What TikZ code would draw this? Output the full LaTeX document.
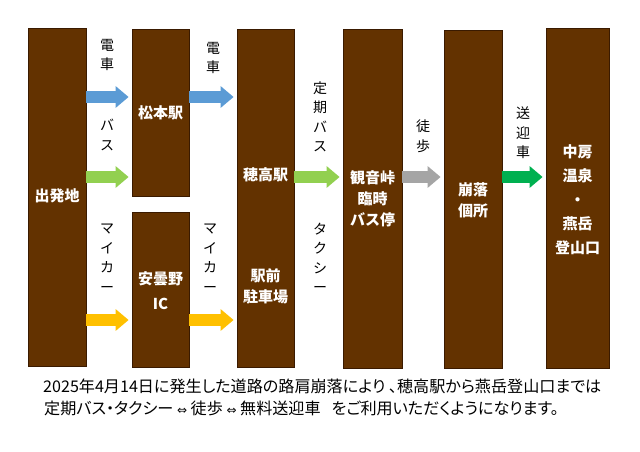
\documentclass[tikz,border=0pt]{standalone}
\usepackage{fontspec}
\setmainfont{Noto Sans CJK JP}
\newfontfamily\notefont{Noto Sans CJK JP}[RawFeature=+palt]
\newfontfamily\symfont{DejaVu Sans}
\usetikzlibrary{arrows.meta}
\definecolor{boxfill}{HTML}{633200}
\definecolor{boxline}{HTML}{3A1A00}
\definecolor{cblue}{HTML}{5B9BD5}
\definecolor{clgreen}{HTML}{92D050}
\definecolor{cyellow}{HTML}{FFC000}
\definecolor{cgray}{HTML}{A5A5A5}
\definecolor{cgreen}{HTML}{00B050}
\tikzset{
  stage/.style={draw=boxline, line width=0.8pt, fill=boxfill, inner sep=0pt},
  intext/.style={text=white, font=\fontsize{15}{21}\selectfont\bfseries, align=center, inner sep=0pt},
  vlabel/.style={font=\fontsize{14}{19.5}\selectfont, align=center, inner sep=0pt, text width=15pt},
  blockarrow/.style={line width=12pt, -{Triangle[width=21pt,length=13pt]}, shorten >=3pt},
  note/.style={font=\notefont\fontsize{16.1}{20}\selectfont, anchor=west, inner sep=0pt}
}
\newcommand{\dblarr}{{\symfont\fontsize{12}{12}\selectfont ⇔}}
\begin{document}
\begin{tikzpicture}[x=1pt,y=-1pt]
\useasboundingbox (0,0) rectangle (640,452);
% stages
\node[stage, minimum width=58pt, minimum height=338pt] (s1) at (57,197) {};
\node[stage, minimum width=57pt, minimum height=167pt] (s2) at (160.5,112.5) {};
\node[stage, minimum width=57pt, minimum height=155pt] (s3) at (160.5,289.5) {};
\node[stage, minimum width=57pt, minimum height=338pt] (s4) at (265.5,198) {};
\node[stage, minimum width=59pt, minimum height=339pt] (s5) at (372.5,198.5) {};
\node[stage, minimum width=58pt, minimum height=338pt] (s6) at (473,199) {};
\node[stage, minimum width=63pt, minimum height=340pt] (s7) at (577.5,198) {};
% stage texts
\node[intext] (t1) at (57,196) {出発地};
\node[intext] (t2) at (160.5,113) {松本駅};
\node[intext] (t3) at (160.5,290.5) {安曇野\\[4pt]IC};
\node[intext] (t4a) at (265.5,175) {穂高駅};
\node[intext] (t4b) at (265.5,286) {駅前\\駐車場};
\node[intext] (t5) at (372.5,199) {観音峠\\臨時\\バス停};
\node[intext] (t6) at (473,200) {崩落\\個所};
\node[intext, font=\fontsize{15}{24}\selectfont\bfseries] (t7) at (577.5,200) {中房\\温泉\\・\\燕岳\\登山口};
% arrows
\coordinate (yA) at (0,97);
\coordinate (yB) at (0,177);
\coordinate (yC) at (0,320);
\draw[blockarrow, draw=cblue, fill=cblue] (s1.east |- yA) -- (s2.west |- yA);
\draw[blockarrow, draw=cblue, fill=cblue] (s2.east |- yA) -- (s4.west |- yA);
\draw[blockarrow, draw=clgreen, fill=clgreen] (s1.east |- yB) -- (s2.west |- yB);
\draw[blockarrow, draw=cyellow, fill=cyellow] (s1.east |- yC) -- (s3.west |- yC);
\draw[blockarrow, draw=cyellow, fill=cyellow] (s3.east |- yC) -- (s4.west |- yC);
\draw[blockarrow, draw=clgreen, fill=clgreen] (s4.east |- yB) -- (s5.west |- yB);
\draw[blockarrow, draw=cgray, fill=cgray] (s5.east |- yB) -- (s6.west |- yB);
\draw[blockarrow, draw=cgreen, fill=cgreen] (s6.east |- yB) -- (s7.west |- yB);
% vertical labels
\node[vlabel] (l1) at (107,55) {電\\車};
\node[vlabel] (l2) at (213,58) {電\\車};
\node[vlabel] (l3) at (107,135) {バ\\ス};
\node[vlabel] (l4) at (107,258) {マ\\イ\\カ\\ー};
\node[vlabel] (l5) at (210,258) {マ\\イ\\カ\\ー};
\node[vlabel] (l6) at (320,117) {定\\期\\バ\\ス};
\node[vlabel] (l7) at (320,258) {タ\\ク\\シ\\ー};
\node[vlabel] (l8) at (423,136) {徒\\歩};
\node[vlabel] (l9) at (523,133) {送\\迎\\車};
% note
\node[note] (n1) at (43,386) {2025年4月14日に発生した道路の路肩崩落により 、穂高駅から燕岳登山口までは};
\node[note] (n2) at (44,408) {定期バス・タクシー \dblarr{} 徒歩 \dblarr{} 無料送迎車\ \ \ をご利用いただくようになります。};
\end{tikzpicture}
\end{document}
